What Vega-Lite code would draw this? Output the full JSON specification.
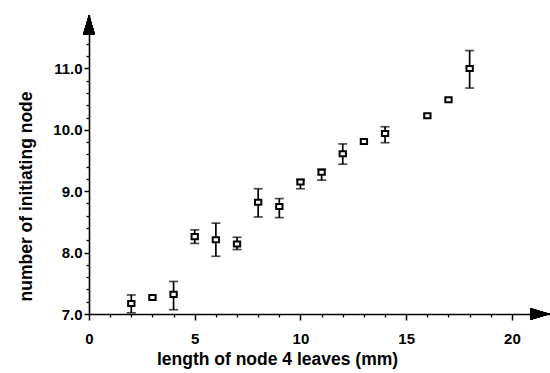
{
  "$schema": "https://vega.github.io/schema/vega-lite/v6.json",
  "width": 461,
  "height": 299,
  "autosize": {"type": "none"},
  "padding": {"left": 89, "top": 15, "right": 0, "bottom": 59},
  "background": "white",
  "config": {"view": {"stroke": null}, "font": "Liberation Sans"},
  "data": {
    "values": [
      {"length": 2, "node": 7.17, "lo": 7.02, "hi": 7.31},
      {"length": 3, "node": 7.27, "lo": null, "hi": null},
      {"length": 4, "node": 7.32, "lo": 7.07, "hi": 7.53},
      {"length": 5, "node": 8.26, "lo": 8.15, "hi": 8.37},
      {"length": 6, "node": 8.21, "lo": 7.94, "hi": 8.48},
      {"length": 7, "node": 8.14, "lo": 8.05, "hi": 8.25},
      {"length": 8, "node": 8.82, "lo": 8.58, "hi": 9.04},
      {"length": 9, "node": 8.75, "lo": 8.57, "hi": 8.88},
      {"length": 10, "node": 9.15, "lo": 9.04, "hi": 9.19},
      {"length": 11, "node": 9.31, "lo": 9.18, "hi": 9.36},
      {"length": 12, "node": 9.61, "lo": 9.44, "hi": 9.77},
      {"length": 13, "node": 9.81, "lo": null, "hi": null},
      {"length": 14, "node": 9.94, "lo": 9.79, "hi": 10.05},
      {"length": 16, "node": 10.23, "lo": null, "hi": null},
      {"length": 17, "node": 10.49, "lo": null, "hi": null},
      {"length": 18, "node": 11.0, "lo": 10.68, "hi": 11.29}
    ]
  },
  "resolve": {"axis": {"x": "independent", "y": "independent"}},
  "layer": [
    {
      "mark": {"type": "rule", "color": "black", "strokeWidth": 1.7},
      "encoding": {
        "x": {
          "field": "length", "type": "quantitative",
          "scale": {"domain": [0, 21.8], "nice": false, "zero": false},
          "axis": {
            "orient": "bottom", "values": [0, 5, 10, 15, 20], "grid": false,
            "domainColor": "black", "domainWidth": 1.6,
            "tickColor": "black", "tickWidth": 1.5, "tickSize": 6,
            "labelFont": "Liberation Sans", "labelFontSize": 15, "labelFontWeight": "bold", "labelColor": "black",
            "labelPadding": 11, "labelFlush": false,
            "title": "length of node 4 leaves (mm)", "titleFont": "Liberation Sans", "titleFontSize": 17.5,
            "titleFontWeight": "bold", "titleColor": "black",
            "titleX": 188, "titleY": 50, "titleAlign": "center", "titleBaseline": "alphabetic"
          }
        },
        "y": {
          "field": "lo", "type": "quantitative",
          "scale": {"domain": [7, 11.87], "nice": false, "zero": false},
          "axis": {
            "orient": "left", "values": [7, 8, 9, 10, 11], "format": ".1f", "grid": false,
            "domainColor": "black", "domainWidth": 1.6,
            "tickColor": "black", "tickWidth": 1.5, "tickSize": 5,
            "labelFont": "Liberation Sans", "labelFontSize": 15, "labelFontWeight": "bold", "labelColor": "black",
            "labelPadding": 2, "labelFlush": false,
            "title": "number of initiating node", "titleFont": "Liberation Sans", "titleFontSize": 17.5,
            "titleFontWeight": "bold", "titleColor": "black",
            "titleX": -58, "titleY": 181, "titleAlign": "center", "titleBaseline": "alphabetic", "titleAngle": -90
          }
        },
        "y2": {"field": "hi"}
      }
    },
    {
      "mark": {"type": "tick", "orient": "horizontal", "color": "black", "size": 9, "thickness": 1.7},
      "encoding": {
        "x": {
          "field": "length", "type": "quantitative",
          "axis": {
            "orient": "bottom", "values": [1, 2, 3, 4, 6, 7, 8, 9, 11, 12, 13, 14, 16, 17, 18, 19, 21],
            "grid": false, "domain": false, "labels": false, "title": null,
            "tickColor": "black", "tickWidth": 1.3, "tickSize": 3
          }
        },
        "y": {
          "field": "lo", "type": "quantitative",
          "axis": {
            "orient": "left",
            "values": [7.2, 7.4, 7.6, 7.8, 8.2, 8.4, 8.6, 8.8, 9.2, 9.4, 9.6, 9.8, 10.2, 10.4, 10.6, 10.8, 11.2, 11.4, 11.6],
            "grid": false, "domain": false, "labels": false, "title": null,
            "tickColor": "black", "tickWidth": 1.3, "tickSize": 3
          }
        }
      }
    },
    {
      "mark": {"type": "tick", "orient": "horizontal", "color": "black", "size": 9, "thickness": 1.7},
      "encoding": {
        "x": {"field": "length", "type": "quantitative", "axis": null},
        "y": {"field": "hi", "type": "quantitative", "axis": null}
      }
    },
    {
      "mark": {"type": "point", "shape": "M-1,-0.8H1V0.8H-1Z", "size": 40, "filled": true, "fill": "white", "stroke": "black", "strokeWidth": 2, "opacity": 1},
      "encoding": {
        "x": {"field": "length", "type": "quantitative", "axis": null},
        "y": {"field": "node", "type": "quantitative", "axis": null}
      }
    },
    {
      "mark": {"type": "point", "shape": "M-0.6,1L0,-1L0.6,1Z", "size": 400, "filled": true, "color": "black", "opacity": 1, "strokeWidth": 0},
      "encoding": {
        "x": {"datum": 0, "type": "quantitative", "axis": null},
        "y": {"datum": 11.71, "type": "quantitative", "axis": null}
      }
    },
    {
      "mark": {"type": "point", "shape": "M-1,-0.6L1,0L-1,0.6Z", "size": 400, "filled": true, "color": "black", "opacity": 1, "strokeWidth": 0},
      "encoding": {
        "x": {"datum": 21.33, "type": "quantitative", "axis": null},
        "y": {"datum": 7, "type": "quantitative", "axis": null}
      }
    }
  ]
}
